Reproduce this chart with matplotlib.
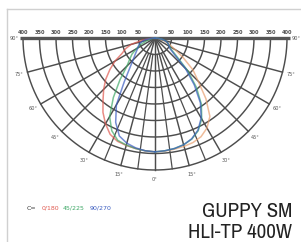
import numpy as np
import matplotlib
matplotlib.use("Agg")
import matplotlib.pyplot as plt
from matplotlib import font_manager
from matplotlib.lines import Line2D

# ---------------- data ----------------
angles_deg = [0, 5, 10, 15, 20, 25, 30, 35, 40, 45, 50, 55, 60, 65, 70, 75, 80, 85, 90]
c0_right   = [345, 344, 342, 340, 337, 330, 315, 290, 240, 185, 150, 105, 70, 50, 35, 25, 15, 8, 0]
c180_left  = [345, 343, 340, 337, 333, 322, 300, 275, 245, 220, 195, 167, 140, 110, 95, 75, 40, 10, 0]
c45_right  = [345, 343, 340, 335, 326, 310, 283, 245, 195, 140, 85, 60, 52, 45, 40, 32, 22, 10, 0]
c225_left  = [345, 343, 340, 336, 330, 310, 275, 220, 165, 120, 100, 85, 65, 50, 30, 20, 10, 5, 0]
c90_right  = [345, 343, 340, 335, 325, 308, 280, 240, 185, 130, 75, 55, 50, 45, 40, 32, 22, 10, 0]
c270_left  = [345, 343, 338, 330, 316, 282, 234, 163, 119, 94, 79, 68, 60, 55, 50, 40, 30, 10, 0]

ring_values = [50, 100, 150, 200, 250, 300, 350, 400]
spoke_angles = [-90, -75, -60, -45, -30, -15, 0, 15, 30, 45, 60, 75, 90]
minor_spokes = [-22.5, -7.5, 7.5, 22.5]
angle_labels = ["90°", "75°", "60°", "45°", "30°", "15°", "0°", "15°", "30°", "45°", "60°", "75°", "90°"]
legend_parts = ["C=", "0/180", "45/225", "90/270"]
title_lines = ["GUPPY SM", "HLI-TP 400W"]


def to_xy(theta_deg, r):
    t = np.radians(np.asarray(theta_deg, dtype=float))
    r = np.asarray(r, dtype=float)
    return r * np.sin(t), -r * np.cos(t)


# ---------------- fonts ----------------
title_family, title_stretch = "Roboto", "normal"
for f in font_manager.fontManager.ttflist:
    if "Narrow" in f.name or "Condensed" in f.name:
        title_family, title_stretch = f.name, "normal"
        break

# ---------------- figure ----------------
W, H = 301, 242
fig = plt.figure(figsize=(W / 100, H / 100), dpi=100)
fig.patch.set_facecolor("white")

fig.add_artist(Line2D([7 / W, 1], [1 - 9 / H, 1 - 9 / H], color="#d0d0d0", lw=1.0))
fig.add_artist(Line2D([7 / W, 7 / W], [0, 1 - 9 / H], color="#d0d0d0", lw=1.0))

cx, cy, R = 155, 38, 132
ax = fig.add_axes([(cx - R) / W, 1 - (cy + R) / H, 2 * R / W, R / H])
ax.set_xlim(-400, 400)
ax.set_ylim(-400, 0)
ax.axis("off")

grid_c = "#4d4d4d"
th = np.linspace(-90, 90, 300)
for r in ring_values:
    x, y = to_xy(th, np.full_like(th, r))
    ax.plot(x, y, color=grid_c, lw=1.05, clip_on=False)
for a in spoke_angles:
    if abs(a) == 90:
        continue
    x, y = to_xy([a, a], [0, 400])
    ax.plot(x, y, color=grid_c, lw=1.05, clip_on=False)
for a in minor_spokes:
    x, y = to_xy([a, a], [50, 400])
    ax.plot(x, y, color=grid_c, lw=0.9, clip_on=False)
# top axis line
ax.plot([-410, 410], [0, 0], color="#555555", lw=2.4, clip_on=False, solid_capstyle="butt")

# radial labels on top axis
for sgn in (-1, 1):
    for r in [0] + ring_values:
        if sgn == 1 and r == 0:
            continue
        ax.annotate(str(r), xy=(sgn * r, 0), xytext=(0, 2.2), textcoords="offset points",
                    ha="center", va="bottom", fontsize=3.6, color="#4d4d4d",
                    fontweight="bold", annotation_clip=False)

# angle labels
for a, lab in zip(spoke_angles, angle_labels):
    x, y = to_xy(a, 428)
    ax.text(x, y, lab, ha="center", va="center", fontsize=3.6, color="#555555", clip_on=False)

# curves
neg = [-a for a in angles_deg]
for th_, vals, col in [(neg, c180_left, "#e05a50"), (angles_deg, c0_right, "#e8a070"),
                       (neg, c225_left, "#3fa867"), (angles_deg, c45_right, "#3fa867"),
                       (neg, c270_left, "#3a5cc0"), (angles_deg, c90_right, "#3a5cc0")]:
    x, y = to_xy(th_, vals)
    ax.plot(x, y, color=col, lw=1.1, alpha=0.7, clip_on=False)

# legend text
leg_x = [27, 42, 63, 90]
leg_c = ["#333333", "#e05a50", "#3fa867", "#3a5cc0"]
for txt, x, c in zip(legend_parts, leg_x, leg_c):
    fig.text(x / W, 1 - 208 / H, txt, fontsize=4.5, color=c, ha="left", va="center")

# title
fs = 15 if title_family != "Roboto" else 14.5
for line, yb in zip(title_lines, (217, 238)):
    fig.text(292 / W, 1 - yb / H, line, fontsize=fs, family=title_family, fontstretch=title_stretch,
             color="#222222", ha="right", va="baseline")

fig.savefig("out.png", dpi=100)
